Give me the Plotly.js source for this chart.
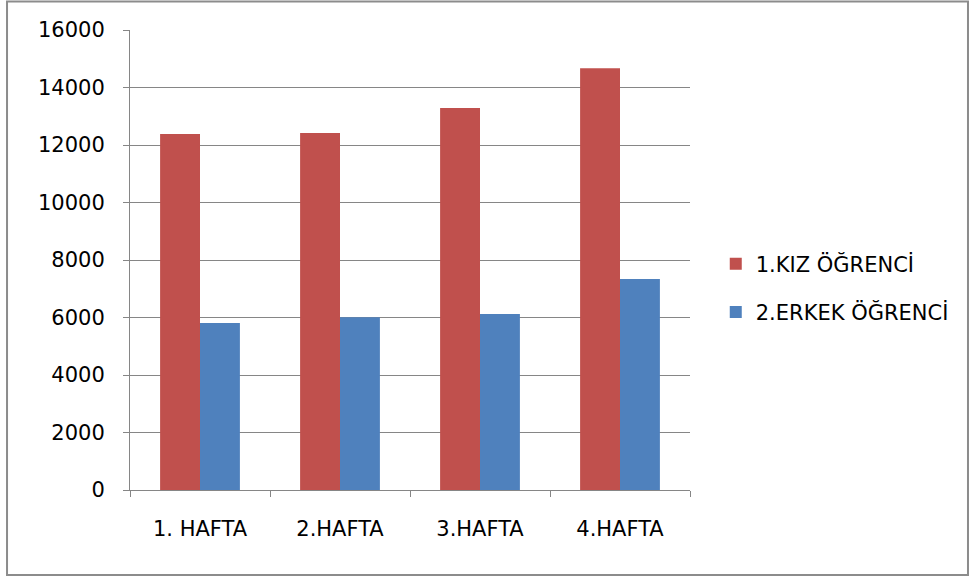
<!DOCTYPE html>
<html>
<head>
<meta charset="utf-8">
<script src="https://cdn.plot.ly/plotly-3.0.1.min.js"></script>
<style>html,body{margin:0;padding:0;background:#fff;}#chart{width:971px;height:581px;}</style>
</head>
<body>
<div id="chart"></div>
<script>
const categories = ["1. HAFTA", "2.HAFTA", "3.HAFTA", "4.HAFTA"];
const seriesNames = ["1.KIZ ÖĞRENCİ", "2.ERKEK ÖĞRENCİ"];
const kizValues = [12380, 12420, 13290, 14670];
const erkekValues = [5810, 6010, 6120, 7340];
const yTicks = [0, 2000, 4000, 6000, 8000, 10000, 12000, 14000, 16000];

const fontFam = "DejaVu Sans, sans-serif";

const traces = [
  {type: "bar", name: seriesNames[0], x: categories, y: kizValues, legendgroup: "a",
   marker: {color: "#C0504D"}, hoverinfo: "x+y"},
  {type: "bar", name: seriesNames[1], x: categories, y: erkekValues, legendgroup: "b",
   marker: {color: "#4F81BD"}, hoverinfo: "x+y"}
];

const layout = {
  width: 971, height: 581,
  margin: {l: 130, r: 281, t: 30, b: 91},
  paper_bgcolor: "#ffffff", plot_bgcolor: "#ffffff",
  font: {family: fontFam, size: 21, color: "#000000"},
  barmode: "group",
  bargap: 0.43,
  bargroupgap: 0,
  showlegend: true,
  legend: {x: 1.046, xanchor: "left", y: 0.439, yanchor: "middle",
           font: {family: fontFam, size: 21, color: "#000"},
           traceorder: "grouped", tracegroupgap: 18, bgcolor: "rgba(0,0,0,0)"},
  xaxis: {type: "category", showgrid: false, showline: true, linecolor: "#868686", linewidth: 1,
          ticks: "outside", tickson: "boundaries", ticklen: 6, tickcolor: "#868686",
          ticklabelstandoff: 20, tickfont: {size: 21}, zeroline: false, fixedrange: true},
  yaxis: {range: [0, 16000], tickvals: yTicks, ticktext: yTicks.map(String),
          showgrid: true, gridcolor: "#868686", gridwidth: 1,
          showline: true, linecolor: "#868686", linewidth: 1,
          ticks: "outside", ticklen: 6, tickcolor: "#868686",
          ticklabelstandoff: 14, tickfont: {size: 21}, zeroline: false, fixedrange: true},
  shapes: [
    {type: "rect", xref: "paper", yref: "paper", x0: -0.2196, x1: 1.4964, y0: -0.1848, y1: 1.0620,
     line: {color: "#8c8c8c", width: 2}, fillcolor: "rgba(0,0,0,0)", layer: "below"}
  ]
};

Plotly.newPlot("chart", traces, layout, {displayModeBar: false, staticPlot: true});
</script>
</body>
</html>
